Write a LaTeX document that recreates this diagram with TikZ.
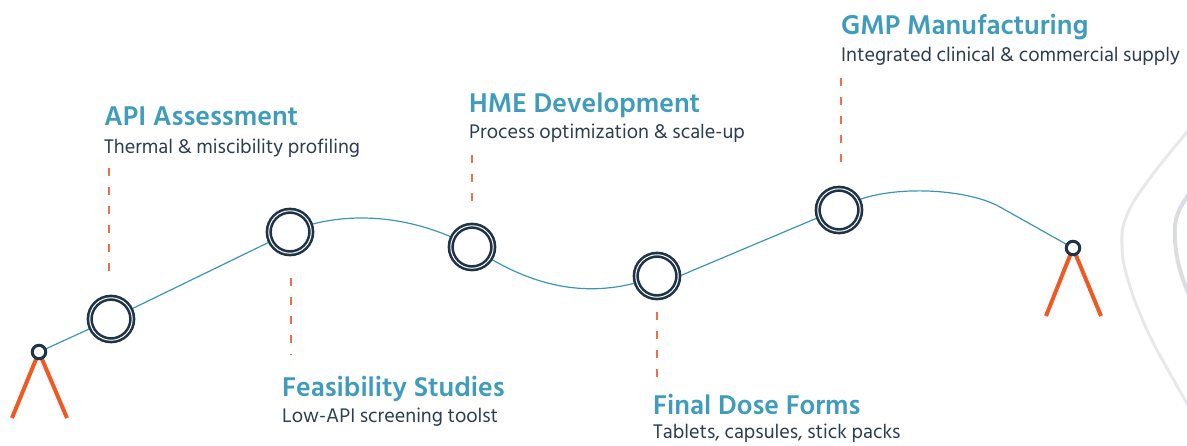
\documentclass[tikz,border=0pt]{standalone}
\usepackage{fontspec}
\setmainfont{Hind Siliguri}
\usetikzlibrary{backgrounds}
\definecolor{navy}{HTML}{1F3447}
\definecolor{tealtitle}{HTML}{3F9CBA}
\definecolor{subtext}{HTML}{2B3D4F}
\definecolor{pathteal}{HTML}{3A96B8}
\definecolor{legorange}{HTML}{F05A22}
\definecolor{dashorange}{HTML}{F06E48}
\definecolor{grayA}{HTML}{E8E8EB}
\definecolor{grayB}{HTML}{DCDCE3}
\tikzset{
  ring/.style={circle, draw=navy, fill=white, line width=2.6pt, double=white, double distance=1pt, minimum size=42.5pt, inner sep=0pt},
  enddot/.style={circle, draw=navy, fill=white, line width=3pt, minimum size=13.5pt, inner sep=0pt},
  route/.style={draw=pathteal, line width=1.2pt},
  leg/.style={draw=legorange, line width=4pt},
  leader/.style={draw=dashorange, line width=1.3pt, dash pattern=on 8pt off 11pt},
  ttl/.style={anchor=base west, inner sep=0pt, text=tealtitle, font=\fontsize{27.8}{32}\selectfont\bfseries},
  sub/.style={anchor=base west, inner sep=0pt, text=subtext, font=\fontsize{20.2}{24}\selectfont},
}
\begin{document}
\begin{tikzpicture}[x=1pt,y=-1pt]
\useasboundingbox (0,0) rectangle (1187,445);
\clip (0,0) rectangle (1187,445);

% decorative gray curves
\draw[grayA, line width=3pt] plot[smooth, tension=0.7] coordinates {(1192,126) (1150,178) (1127,215) (1122,245) (1128,280) (1147,330) (1172,377) (1192,412)};
\draw[grayB, line width=4pt] plot[smooth, tension=0.7] coordinates {(1192,190) (1178,213) (1175,238) (1180,270) (1192,302)};

% nodes
\node[enddot] (s) at (39,352) {};
\node[ring] (n1) at (111,319) {};
\node[ring] (n2) at (290,232) {};
\node[ring] (n3) at (472,247) {};
\node[ring] (n4) at (657,276) {};
\node[ring] (n5) at (839,210) {};
\node[enddot] (e) at (1073,248) {};

\coordinate (sL) at (12,418);
\coordinate (sR) at (67,418);
\coordinate (eL) at (1046,316);
\coordinate (eR) at (1101,316);

\begin{scope}[on background layer]
  \draw[leg] (s.center) -- (sL);
  \draw[leg] (s.center) -- (sR);
  \draw[leg] (e.center) -- (eL);
  \draw[leg] (e.center) -- (eR);
  \draw[route] (s.center) -- (n1.center) -- (n2.center);
  \draw[route] (n2.center) .. controls (330,214) and (400,208) .. (n3.center);
  \draw[route] (n3.center) .. controls (535,290) and (595,300) .. (n4.center);
  \draw[route] (n4.east) -- (n5.200);
  \draw[route] (n5.center) .. controls (875,183) and (965,187) .. (1000,207) -- (e.center);
\end{scope}

% labels
\node[ttl] (t1) at (104,125) {API Assessment};
\node[sub] (u1) at (104,153) {Thermal \& miscibility profiling};
\node[ttl] (t2) at (282,396) {Feasibility Studies};
\node[sub] (u2) at (282,422) {Low-API screening toolst};
\node[ttl] (t3) at (469,112) {HME Development};
\node[sub] (u3) at (469,138) {Process optimization \& scale-up};
\node[ttl] (t4) at (653,414) {Final Dose Forms};
\node[sub] (u4) at (653,438.5) {Tablets, capsules, stick packs};
\node[ttl] (t5) at (841,34) {GMP Manufacturing};
\node[sub] (u5) at (841,61) {Integrated clinical \& commercial supply};

% dashed leaders
\coordinate (d1a) at (109,168); \coordinate (d1b) at (109,277);
\coordinate (d2a) at (291,278); \coordinate (d2b) at (291,355);
\coordinate (d3a) at (472,155); \coordinate (d3b) at (472,205);
\coordinate (d4a) at (657,312); \coordinate (d4b) at (657,379);
\coordinate (d5a) at (841,78);  \coordinate (d5b) at (841,172);
\draw[leader] (d1a) -- (d1b);
\draw[leader] (d2a) -- (d2b);
\draw[leader] (d3a) -- (d3b);
\draw[leader] (d4a) -- (d4b);
\draw[leader] (d5a) -- (d5b);
\end{tikzpicture}
\end{document}
